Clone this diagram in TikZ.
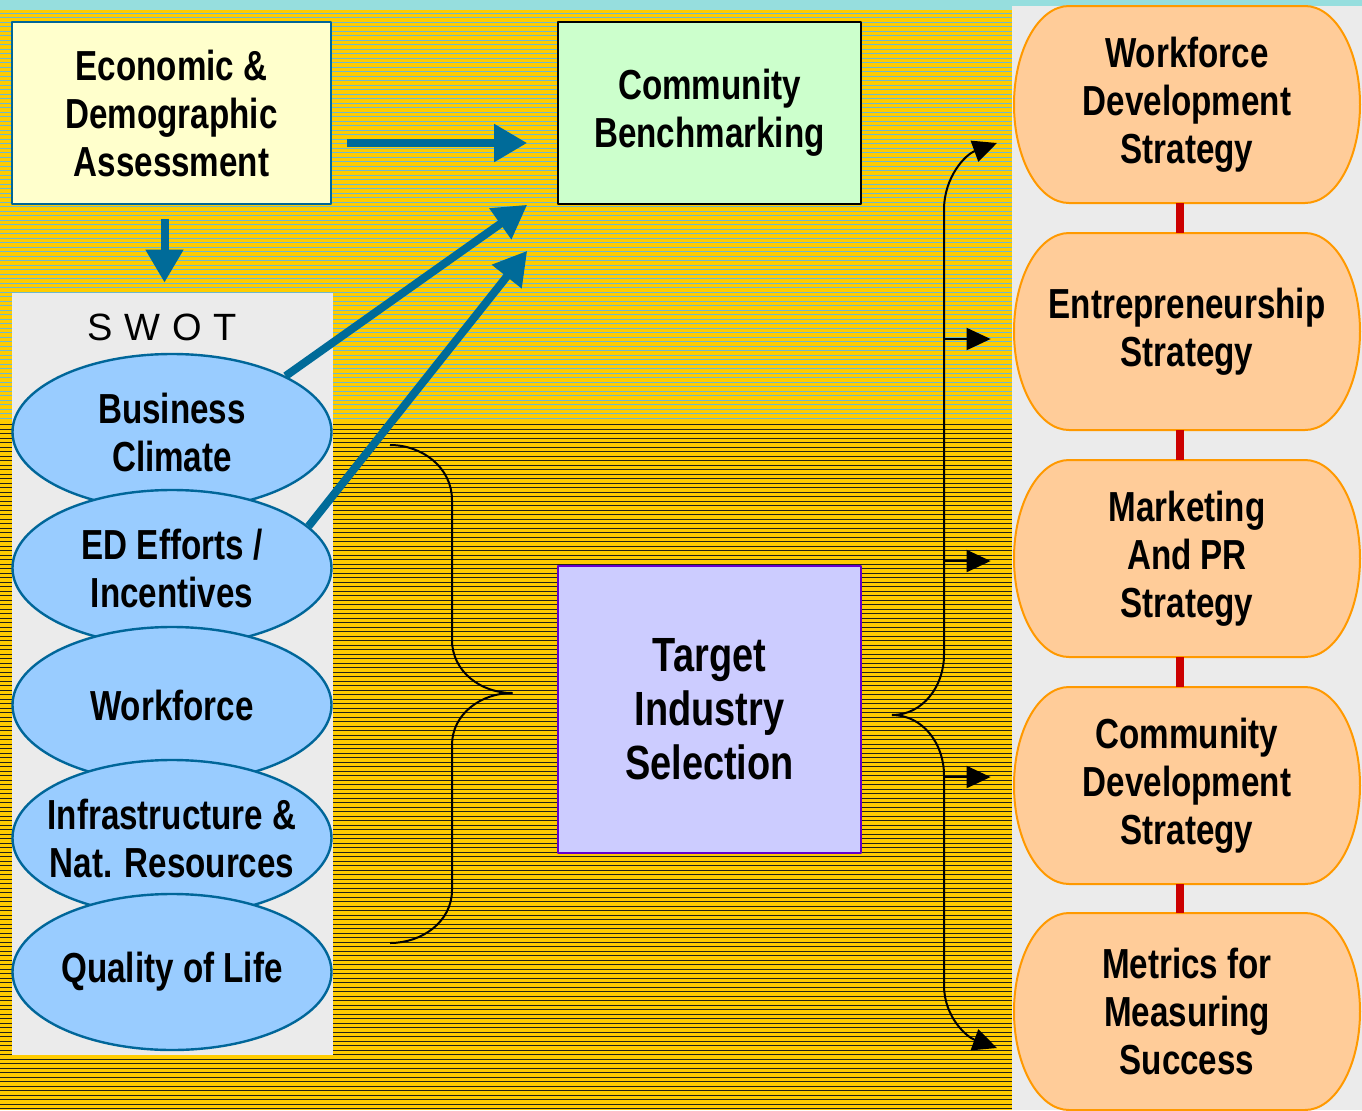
\documentclass[tikz,border=0pt]{standalone}
\usepackage{fontspec}
\setmainfont{Liberation Sans}
\newfontfamily\narrowfont{Liberation Sans}[FakeStretch=0.79]
\usetikzlibrary{arrows.meta,shapes.geometric}
\definecolor{bgyellow}{RGB}{255,204,0}
\definecolor{topcyan}{RGB}{150,222,222}
\definecolor{stripetop}{RGB}{110,185,205}
\definecolor{stripelow}{RGB}{35,35,25}
\definecolor{panelgray}{RGB}{235,235,235}
\definecolor{arrteal}{RGB}{0,107,153}
\definecolor{ellfill}{RGB}{153,204,255}
\definecolor{ellline}{RGB}{0,102,153}
\definecolor{orfill}{RGB}{255,204,153}
\definecolor{orline}{RGB}{255,153,0}
\definecolor{redlink}{RGB}{204,0,0}
\definecolor{purpleline}{RGB}{102,0,204}
\begin{document}
\begin{tikzpicture}[x=0.5pt,y=-0.5pt,line join=round,
 lbl/.style={font=\narrowfont\bfseries\fontsize{21}{24}\selectfont,align=center},
 swotell/.style={lbl,ellipse,fill=ellfill,draw=ellline,line width=1.2pt,minimum width=159.5pt,minimum height=78pt,inner xsep=-20pt,inner ysep=0pt},
 bigarr/.style={draw=arrteal,line width=4pt,-{Triangle[length=16.5pt,width=18pt]}},
 thinarr/.style={draw=black,line width=1pt,-{Triangle[length=12pt,width=11pt]}},
 stratbox/.style={draw=orline,fill=orfill,line width=1pt}]
\useasboundingbox (0,0) rectangle (1362,1110);
% background
\fill[bgyellow] (0,0) rectangle (1362,1110);
\fill[topcyan] (0,0) rectangle (1362,10);
\foreach \yy in {13,17.5,...,420} \draw[stripetop,line width=0.45pt] (0,\yy) -- (1012,\yy);
\foreach \yy in {424.5,429,...,1110} \draw[stripelow,line width=0.45pt] (0,\yy) -- (1012,\yy);
\fill[panelgray] (1012,6) rectangle (1362,1110);
% left column
\node[lbl,fill={rgb,255:red,255;green,255;blue,204},draw=ellline,line width=0.8pt,minimum width=159.5pt,minimum height=91pt,inner sep=0pt] (econ) at (171.5,113) {Economic \&\\Demographic\\Assessment};
\node[fill=panelgray,minimum width=160.5pt,minimum height=381pt,inner sep=0pt] (swot) at (172.5,674) {};
\node[font=\fontsize{19}{22}\selectfont] (swotlbl) at (162,327) {S\hspace{6pt}W\hspace{6pt}O\hspace{6pt}T};
\node[swotell] (biz) at (172,432) {Business\\Climate};
\node[swotell] (ed) at (172,568) {ED Efforts /\\Incentives};
\node[swotell] (work) at (172,705) {Workforce};
\node[swotell] (infra) at (172,838) {Infrastructure \&\\Nat. Resources};
\node[swotell] (qol) at (172,972) {Quality of Life};
% middle column
\node[lbl,fill={rgb,255:red,204;green,255;blue,204},draw=black,line width=0.8pt,minimum width=151.5pt,minimum height=91pt,inner sep=0pt] (bench) at (709.5,113) {Community\\Benchmarking};
\node[lbl,font=\narrowfont\bfseries\fontsize{24}{27}\selectfont,fill={rgb,255:red,204;green,204;blue,255},draw=purpleline,line width=0.8pt,minimum width=151.5pt,minimum height=143.5pt,inner sep=0pt] (target) at (709.5,709.5) {Target\\Industry\\Selection};
% strategies
\foreach \yc/\txt/\nm in {104.5/{Workforce\\Development\\Strategy}/s1,
 331.5/{Entrepreneurship\\Strategy}/s2,
 558.5/{Marketing\\And PR\\Strategy}/s3,
 785.5/{Community\\Development\\Strategy}/s4,
 1011.5/{Metrics for\\Measuring\\Success}/s5}{
 \draw[stratbox] (1069,{\yc-98.5}) -- (1305,{\yc-98.5}) arc[start angle=90,end angle=-90,x radius=27.5pt,y radius=49.25pt]
  -- (1069,{\yc+98.5}) arc[start angle=270,end angle=90,x radius=27.5pt,y radius=49.25pt] -- cycle;
 \node[lbl,minimum width=173pt,minimum height=98.5pt,inner sep=0pt] (\nm) at (1187,\yc) {\txt};
}
\foreach \a/\b in {s1/s2,s2/s3,s3/s4,s4/s5}
 \draw[redlink,line width=4pt] ([xshift=-3.5pt]\a.south) -- ([xshift=-3.5pt]\b.north);
% teal arrows
\draw[bigarr,shorten <=7.5pt,shorten >=15pt] ([yshift=-15pt]econ.east) -- ([yshift=-15pt]bench.west);
\draw[bigarr,shorten <=7pt,shorten >=5pt] ([xshift=-3.5pt]econ.south) -- ([xshift=-3.5pt]econ.south |- swot.north);
\draw[bigarr] (biz.north east) -- ([xshift=-15pt]bench.south west);
\draw[bigarr] (ed.17) -- ([xshift=-15pt,yshift=-23pt]bench.south west);
% braces
\draw[line width=1pt] (390,445) to[out=0,in=90] (452,500) -- (452,640) to[out=-90,in=180] (512,693)
 to[out=180,in=90] (452,745) -- (452,890) to[out=-90,in=0] (390,943);
\coordinate (rtip) at (892,715);
\draw[thinarr] (rtip) to[out=0,in=-90] (944,655) -- (944,210) to[out=90,in=200] (997,143);
\draw[thinarr] (rtip) to[out=0,in=90] (944,775) -- (944,985) to[out=-90,in=160] (997,1048);
\draw[thinarr,shorten >=11.5pt] (944,339) -- (s2.west |- 944,339);
\draw[thinarr,shorten >=11.5pt] (944,561) -- (s3.west |- 944,561);
\draw[thinarr,shorten >=11.5pt] (944,777) -- (s4.west |- 944,777);
\end{tikzpicture}
\end{document}
